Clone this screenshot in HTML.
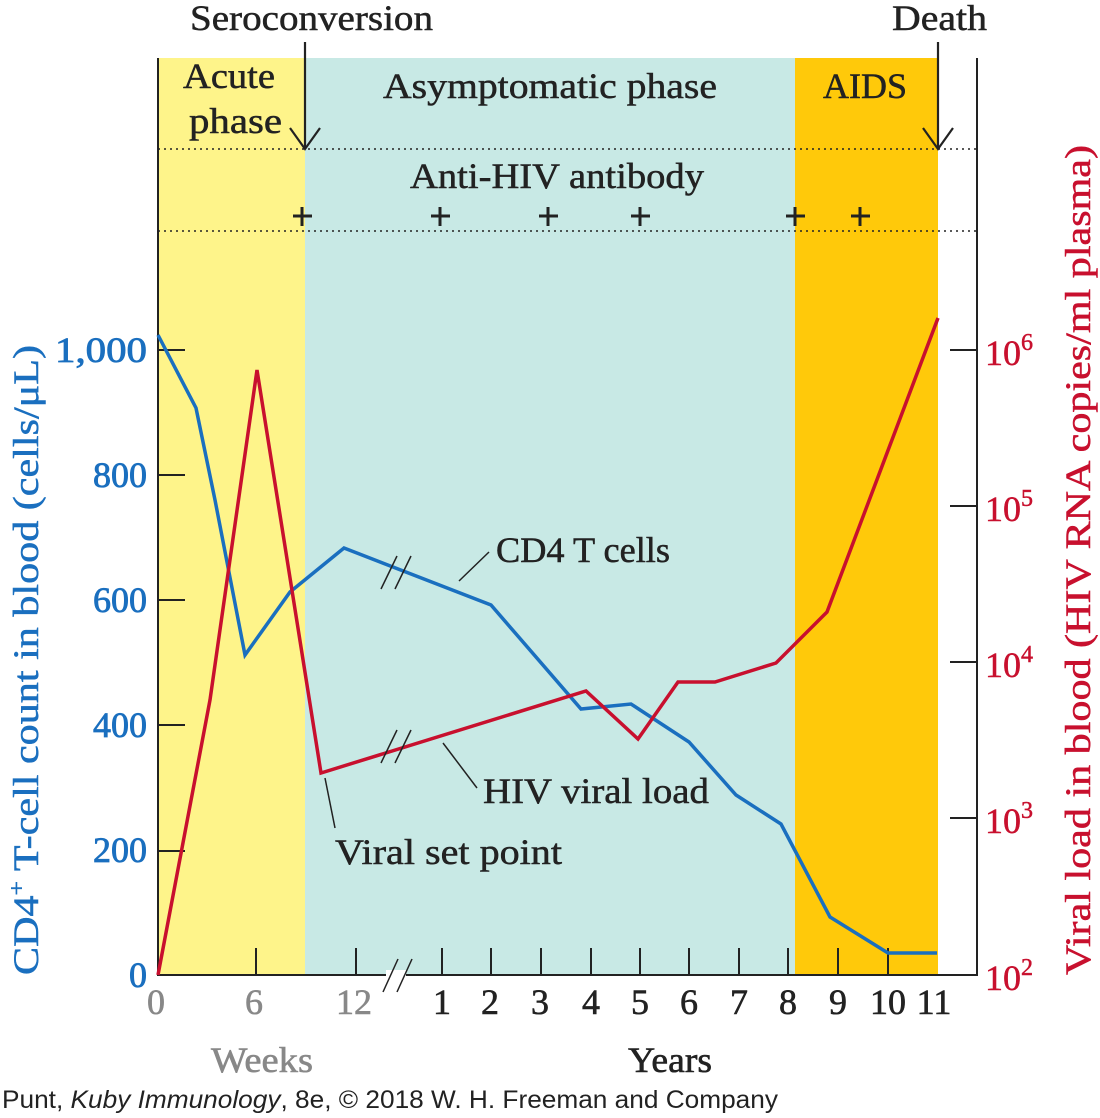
<!DOCTYPE html>
<html><head><meta charset="utf-8"><style>
html,body{margin:0;padding:0;background:#fff;}
svg{display:block;}
text{font-family:"Liberation Serif",serif;}
</style></head><body>
<svg width="1100" height="1118" viewBox="0 0 1100 1118" xmlns="http://www.w3.org/2000/svg">
<rect x="158" y="58" width="147" height="917" fill="#FEF48A"/>
<rect x="305" y="58" width="490" height="917" fill="#C8E9E5"/>
<rect x="795" y="58" width="143" height="917" fill="#FFC90A"/>
<line x1="158" y1="149" x2="978" y2="149" stroke="#222" stroke-width="1.5" stroke-dasharray="2,4"/>
<line x1="158" y1="231" x2="978" y2="231" stroke="#222" stroke-width="1.5" stroke-dasharray="2,4"/>
<line x1="158" y1="58" x2="158" y2="976" stroke="#222" stroke-width="2"/>
<line x1="977" y1="58" x2="977" y2="976" stroke="#222" stroke-width="2"/>
<line x1="158" y1="975" x2="978" y2="975" stroke="#222" stroke-width="2"/>
<g stroke="#222" stroke-width="2">
<line x1="158" y1="851" x2="185" y2="851"/><line x1="158" y1="725" x2="185" y2="725"/><line x1="158" y1="600" x2="185" y2="600"/><line x1="158" y1="475" x2="185" y2="475"/><line x1="158" y1="350" x2="185" y2="350"/>
<line x1="950" y1="818" x2="977" y2="818"/><line x1="950" y1="662" x2="977" y2="662"/><line x1="950" y1="506" x2="977" y2="506"/><line x1="950" y1="350" x2="977" y2="350"/>
<line x1="256" y1="948" x2="256" y2="975"/><line x1="356" y1="948" x2="356" y2="975"/><line x1="442" y1="948" x2="442" y2="975"/><line x1="491" y1="948" x2="491" y2="975"/><line x1="541" y1="948" x2="541" y2="975"/><line x1="591" y1="948" x2="591" y2="975"/><line x1="640" y1="948" x2="640" y2="975"/><line x1="689" y1="948" x2="689" y2="975"/><line x1="739" y1="948" x2="739" y2="975"/><line x1="788" y1="948" x2="788" y2="975"/><line x1="838" y1="948" x2="838" y2="975"/><line x1="888" y1="948" x2="888" y2="975"/>
</g>
<g stroke="#222" stroke-width="2.2" fill="none">
<line x1="305" y1="42" x2="305" y2="149"/><polyline points="290,128 305,149 320,128"/>
<line x1="938" y1="42" x2="938" y2="149"/><polyline points="923,128 938,149 953,128"/>
</g>
<g stroke="#222" stroke-width="3">
<path d="M293,216h19M302,207v19"/><path d="M431,216h19M440,207v19"/><path d="M539,216h19M548,207v19"/><path d="M631,216h19M640,207v19"/><path d="M786,216h19M795,207v19"/><path d="M851,216h19M860,207v19"/>
</g>
<polyline fill="none" stroke="#1A6FBF" stroke-width="3.5" points="158,335 196,408 215,500 245,655 290,592 344,548 491,605 581,709 631,704 689,742 736,795 781,824 830,917 888,953 937,953"/>
<polyline fill="none" stroke="#C8102E" stroke-width="3.5" points="158,975 210,700 257,370 321,773 586,691 638,739 678,682 715,682 776,663 827,612 938,318"/>
<g stroke="#222" stroke-width="1.5">
<line x1="381" y1="589" x2="397" y2="556"/><line x1="395" y1="589" x2="411" y2="556"/>
<line x1="381" y1="763" x2="397" y2="730"/><line x1="395" y1="763" x2="411" y2="730"/>
</g>
<rect x="386" y="970" width="20" height="10" fill="#fff"/>
<g stroke="#222" stroke-width="1.5">
<line x1="383" y1="992" x2="398" y2="959"/><line x1="397" y1="992" x2="412" y2="959"/>
</g>
<g stroke="#222" stroke-width="1.5">
<line x1="459" y1="581" x2="489" y2="552"/>
<line x1="443" y1="743" x2="477" y2="788"/>
<line x1="325" y1="778" x2="335" y2="828"/>
</g>
<g fill="#222" font-size="36" stroke="#222" stroke-width="0.5">
<text x="190" y="30" textLength="243" lengthAdjust="spacingAndGlyphs">Seroconversion</text>
<text x="892" y="30" textLength="95" lengthAdjust="spacingAndGlyphs">Death</text>
<text x="183" y="88" textLength="92" lengthAdjust="spacingAndGlyphs">Acute</text>
<text x="189" y="133" textLength="93" lengthAdjust="spacingAndGlyphs">phase</text>
<text x="383" y="98" textLength="334" lengthAdjust="spacingAndGlyphs">Asymptomatic phase</text>
<text x="823" y="98" textLength="84" lengthAdjust="spacingAndGlyphs">AIDS</text>
<text x="410" y="188" textLength="294" lengthAdjust="spacingAndGlyphs">Anti-HIV antibody</text>
<text x="496" y="562" textLength="174" lengthAdjust="spacingAndGlyphs">CD4 T cells</text>
<text x="483" y="803" textLength="226" lengthAdjust="spacingAndGlyphs">HIV viral load</text>
<text x="335" y="864" textLength="227" lengthAdjust="spacingAndGlyphs">Viral set point</text>
</g>
<g fill="#1A6FBF" stroke="#1A6FBF" stroke-width="0.8" font-size="36" text-anchor="end">
<text x="147" y="362" textLength="92" lengthAdjust="spacingAndGlyphs">1,000</text><text x="147" y="487">800</text><text x="147" y="612">600</text><text x="147" y="737">400</text><text x="147" y="862">200</text><text x="147" y="987">0</text>
</g>
<text transform="translate(38,975) rotate(-90)" fill="#1A6FBF" stroke="#1A6FBF" stroke-width="0.5" font-size="36" textLength="630" lengthAdjust="spacingAndGlyphs">CD4<tspan font-size="22" dy="-14">+</tspan><tspan dy="14"> T-cell count in blood (cells/μL)</tspan></text>
<g fill="#C8102E" stroke="#C8102E" stroke-width="0.5" font-size="36">
<text x="985" y="990">10<tspan font-size="24" dy="-15">2</tspan></text>
<text x="985" y="833">10<tspan font-size="24" dy="-15">3</tspan></text>
<text x="985" y="677">10<tspan font-size="24" dy="-15">4</tspan></text>
<text x="985" y="521">10<tspan font-size="24" dy="-15">5</tspan></text>
<text x="985" y="365">10<tspan font-size="24" dy="-15">6</tspan></text>
</g>
<text transform="translate(1090,975) rotate(-90)" fill="#C8102E" stroke="#C8102E" stroke-width="0.5" font-size="36" textLength="830" lengthAdjust="spacingAndGlyphs">Viral load in blood (HIV RNA copies/ml plasma)</text>
<g font-size="36" text-anchor="middle" stroke-width="0.6">
<g fill="#888" stroke="#888"><text x="156" y="1014">0</text><text x="254" y="1014">6</text><text x="354" y="1014">12</text></g>
<g fill="#222" stroke="#222"><text x="442" y="1014">1</text><text x="490" y="1014">2</text><text x="540" y="1014">3</text><text x="591" y="1014">4</text><text x="640" y="1014">5</text><text x="689" y="1014">6</text><text x="739" y="1014">7</text><text x="788" y="1014">8</text><text x="838" y="1014">9</text><text x="888" y="1014">10</text><text x="934" y="1014">11</text></g>
<text x="262" y="1072" fill="#888" stroke="#888" textLength="102" lengthAdjust="spacingAndGlyphs">Weeks</text>
<text x="670" y="1072" fill="#222" stroke="#222" textLength="84" lengthAdjust="spacingAndGlyphs">Years</text>
</g>
<text x="2" y="1108" fill="#222" font-size="25" style="font-family:'Liberation Sans',sans-serif" textLength="776" lengthAdjust="spacingAndGlyphs">Punt, <tspan font-style="italic">Kuby Immunology</tspan>, 8e, © 2018 W. H. Freeman and Company</text>
</svg>
</body></html>
